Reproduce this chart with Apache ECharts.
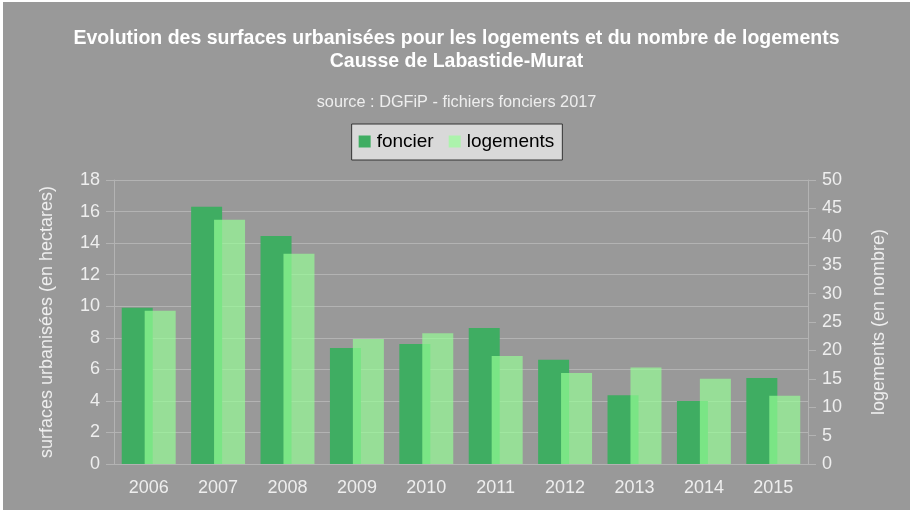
<!DOCTYPE html>
<html>
<head>
<meta charset="utf-8">
<script src="https://cdn.jsdelivr.net/npm/echarts@6/dist/echarts.min.js"></script>
<style>
  html, body { margin: 0; padding: 0; background: #ffffff; }
  #chart { position: absolute; left: 3px; top: 2px; width: 907px; height: 508px; }
</style>
</head>
<body>
<div id="chart"></div>
<script>
/*données*/
var annees = ['2006', '2007', '2008', '2009', '2010', '2011', '2012', '2013', '2014', '2015'];
var foncier = [9.9, 16.3, 14.45, 7.35, 7.6, 8.62, 6.6, 4.35, 4.0, 5.45];
var logements = [27, 43, 37, 22, 23, 19, 16, 17, 15, 12];
var titre = 'Evolution des surfaces urbanisées pour les logements et du nombre de logements\nCausse de Labastide-Murat';
var sousTitre = 'source : DGFiP - fichiers fonciers 2017';

var dom = document.getElementById('chart');
var myChart = echarts.init(dom);
var axisColor = '#b3b3b3';
var labelColor = '#eeeeee';
var police = 'Liberation Sans';

var option = {
    backgroundColor: '#999999',
    textStyle: { fontFamily: police },
    title: [{
        text: titre,
        left: 'center',
        top: 25,
        padding: 0,
        textStyle: { color: '#ffffff', fontSize: 19.5, fontWeight: 'bold', lineHeight: 23, fontFamily: police }
    }, {
        text: sousTitre,
        left: 'center',
        top: 91,
        padding: 0,
        textStyle: { color: '#eeeeee', fontSize: 16.3, fontWeight: 'normal', lineHeight: 20, fontFamily: police }
    }],
    legend: {
        data: ['foncier', 'logements'],
        left: 'center',
        top: 122,
        backgroundColor: '#d9d9d9',
        borderColor: '#333333',
        borderWidth: 1,
        borderRadius: 0,
        padding: [8, 8, 9, 7],
        itemWidth: 12,
        itemHeight: 12,
        itemGap: 15,
        icon: 'rect',
        textStyle: { color: '#000000', fontSize: 19, fontFamily: police, padding: [2, 0, 0, 1] }
    },
    grid: {
        left: 111,
        right: 102,
        top: 178,
        bottom: 46,
        containLabel: false,
        outerBoundsMode: 'none'
    },
    xAxis: {
        type: 'category',
        data: annees,
        axisLine: { lineStyle: { color: axisColor } },
        axisTick: { length: 8, lineStyle: { color: axisColor } },
        axisLabel: { color: labelColor, fontSize: 18, margin: 15 }
    },
    yAxis: [{
        type: 'value',
        min: 0,
        max: 18,
        interval: 2,
        position: 'left',
        name: 'surfaces urbanisées (en hectares)',
        nameLocation: 'middle',
        nameGap: 58,
        nameTextStyle: { color: labelColor, fontSize: 18 },
        axisLine: { show: true, lineStyle: { color: axisColor } },
        axisTick: { show: true, length: 8, lineStyle: { color: axisColor } },
        axisLabel: { color: labelColor, fontSize: 18, margin: 14 },
        splitLine: { lineStyle: { color: axisColor } }
    }, {
        type: 'value',
        min: 0,
        max: 50,
        interval: 5,
        position: 'right',
        name: 'logements (en nombre)',
        nameLocation: 'middle',
        nameGap: 62,
        nameTextStyle: { color: labelColor, fontSize: 18 },
        axisLine: { show: true, lineStyle: { color: axisColor } },
        axisTick: { show: true, length: 8, lineStyle: { color: axisColor } },
        axisLabel: { color: labelColor, fontSize: 18, margin: 14 },
        splitLine: { show: false }
    }],
    series: [{
        name: 'foncier',
        type: 'bar',
        yAxisIndex: 0,
        data: foncier,
        barWidth: 31,
        barGap: '-26%',
        itemStyle: { color: '#3fad62' }
    }, {
        name: 'logements',
        type: 'bar',
        yAxisIndex: 1,
        data: logements,
        barWidth: 31,
        barGap: '-26%',
        itemStyle: { color: 'rgba(150,255,150,0.68)' }
    }]
};
myChart.setOption(option, true);
</script>
</body>
</html>
